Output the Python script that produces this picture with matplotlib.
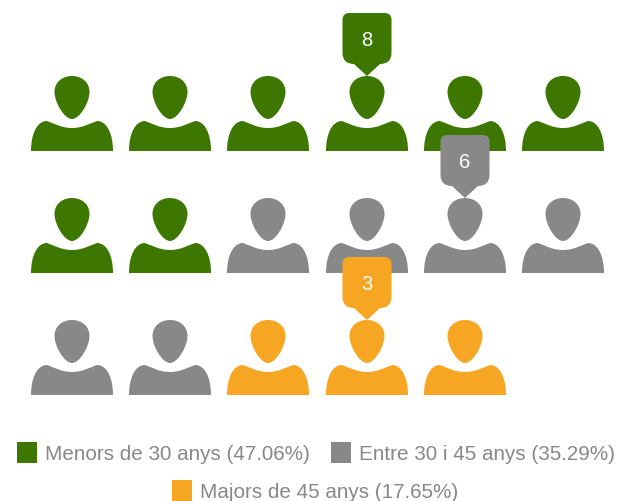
import matplotlib
matplotlib.use('Agg')
from matplotlib import pyplot as plt
from matplotlib.path import Path
from matplotlib.patches import PathPatch, Rectangle
from matplotlib.transforms import Affine2D

plt.rcParams['font.family'] = ['Liberation Sans', 'DejaVu Sans']

categories = ['Menors de 30 anys', 'Entre 30 i 45 anys', 'Majors de 45 anys']
counts = [8, 6, 3]
percents = ['47.06%', '35.29%', '17.65%']
colors = ['#3d7700', '#888888', '#f6a623']

column_x = [72, 170, 268, 367, 465, 563]
row_bottom = [151, 273, 395]
# icon that carries the tooltip, per category
tooltip_icon = [3, 10, 15]

swatch_x = [17, 331, 172]
label_x = [45, 359, 200]
legend_y = [453, 453, 491]

M, L, C, Q, Z = Path.MOVETO, Path.LINETO, Path.CURVE4, Path.CURVE3, Path.CLOSEPOLY

# person shape, origin at the bottom centre of the icon, y pointing down
head = Path([(0, -75), (-9.5, -75), (-17.5, -69), (-17.5, -59),
             (-17.5, -49), (-8, -32), (0, -32),
             (8, -32), (17.5, -49), (17.5, -59),
             (17.5, -69), (9.5, -75), (0, -75), (0, -75)],
            [M, C, C, C, C, C, C, C, C, C, C, C, C, Z])
body = Path([(-41, 0), (-41, -17), (-35, -30), (-25, -30),
             (-19, -28), (-11, -23), (0, -23),
             (11, -23), (19, -28), (25, -30),
             (35, -30), (41, -17), (41, 0), (-41, 0)],
            [M, C, C, C, C, C, C, C, C, C, C, C, L, Z])
# tooltip, origin at the tip of the pointer
bubble = Path([(0, 0), (-13, -12), (-24.5, -12), (-24.5, -23),
               (-24.5, -56), (-24.5, -63), (-17.5, -63),
               (17.5, -63), (24.5, -63), (24.5, -56),
               (24.5, -23), (24.5, -12), (13, -12), (0, 0), (0, 0)],
              [M, L, Q, Q, L, Q, Q, L, Q, Q, L, Q, Q, L, Z])

fig = plt.figure(figsize=(6.21, 5.01), dpi=100)
ax = fig.add_axes([0, 0, 1, 1])
ax.set_xlim(0, 621)
ax.set_ylim(501, 0)
ax.axis('off')

icon_colors = [c for c, n in zip(colors, counts) for _ in range(n)]
icon_pos = []
for i, c in enumerate(icon_colors):
    x = column_x[i % 6]
    y = row_bottom[i // 6]
    icon_pos.append((x, y))
    tr = Affine2D().translate(x, y) + ax.transData
    ax.add_patch(PathPatch(head, facecolor=c, edgecolor='none', transform=tr, zorder=2))
    ax.add_patch(PathPatch(body, facecolor=c, edgecolor='none', transform=tr, zorder=2))

for i, n in enumerate(counts):
    x, y = icon_pos[tooltip_icon[i]]
    tip = y - 75
    tr = Affine2D().translate(x, tip) + ax.transData
    ax.add_patch(PathPatch(bubble, facecolor=colors[i], edgecolor='none', transform=tr, zorder=3))
    ax.text(x, tip - 36, str(n), color='white', fontsize=14.5, ha='center',
            va='center', zorder=4)

for i, cat in enumerate(categories):
    ax.add_patch(Rectangle((swatch_x[i], legend_y[i] - 11), 20, 21,
                           facecolor=colors[i], edgecolor='none', clip_on=True))
    ax.text(label_x[i], legend_y[i] + 1.5, cat + ' (' + percents[i] + ')', color='#888888',
            fontsize=14.9, ha='left', va='center')

fig.savefig('out.png', dpi=100)
